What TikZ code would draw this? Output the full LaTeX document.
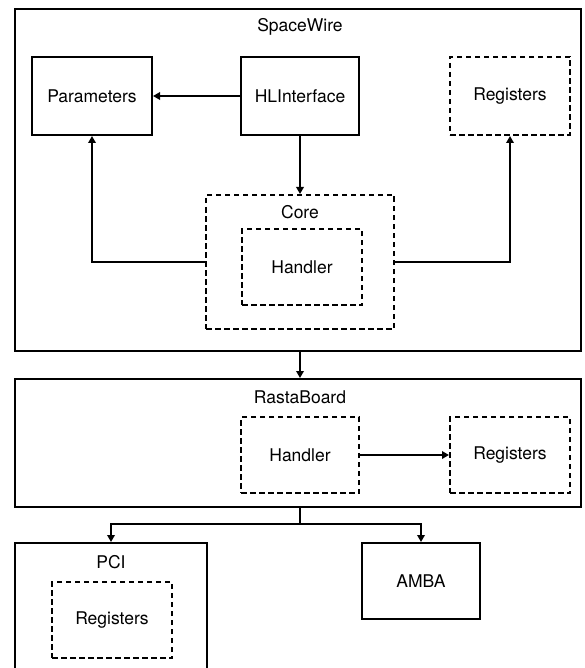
\documentclass[tikz,border=0pt]{standalone}
\usepackage{fontspec}
\setmainfont{TeX Gyre Heros}
\usetikzlibrary{arrows.meta}
\begin{document}
\begin{tikzpicture}[x=1pt,y=-1pt,
  font=\fontsize{17.5pt}{21pt}\selectfont,
  solidbox/.style={draw=black,line width=2pt,inner sep=0pt},
  dashbox/.style={draw=black,line width=2pt,inner sep=0pt,dash pattern=on 5.5pt off 3.5pt},
  conn/.style={draw=black,line width=2pt},
  arr/.style={conn,-{Triangle[length=7pt,width=7.5pt]}},
  lbl/.style={inner sep=0pt}]
\useasboundingbox (0,0) rectangle (584,668);
\clip (0,0) rectangle (584,668);

% SpaceWire container and its parts
\node[solidbox,minimum width=566pt,minimum height=342pt] (sw) at (298,180) {};
\node[lbl] (swlabel) at (300,27) {SpaceWire};
\node[solidbox,minimum width=120pt,minimum height=78pt] (params) at (92,96) {Parameters};
\node[solidbox,minimum width=118pt,minimum height=78pt] (hli) at (300,96) {HLInterface};
\node[dashbox,minimum width=120pt,minimum height=78pt] (swregs) at (510,96) {Registers};
\node[dashbox,minimum width=188pt,minimum height=134pt] (core) at (300,262) {};
\node[lbl] (corelabel) at (300,212) {Core};
\node[dashbox,minimum width=120pt,minimum height=76pt] (swhandler) at (302,267) {Handler};

% RastaBoard container
\node[solidbox,minimum width=566pt,minimum height=128pt] (rasta) at (298,443) {};
\node[lbl] (rastalabel) at (300,397) {RastaBoard};
\node[dashbox,minimum width=118pt,minimum height=76pt] (rbhandler) at (300,455) {Handler};
\node[dashbox,minimum width=120pt,minimum height=76pt] (rbregs) at (510,455) {Registers};

% Buses
\node[solidbox,minimum width=192pt,minimum height=178pt] (pci) at (111,632) {};
\node[lbl] (pcilabel) at (111,562) {PCI};
\node[dashbox,minimum width=120pt,minimum height=76pt] (pciregs) at (112,620) {Registers};
\node[solidbox,minimum width=118pt,minimum height=76pt] (amba) at (421,581) {AMBA};

% Connectors inside SpaceWire
\draw[arr] (hli.west) -- (params.east);
\draw[arr] (hli.south) -- (core.north);
\draw[arr] (core.west) -| (params.south);
\draw[arr] (core.east) -| (swregs.south);

% SpaceWire to RastaBoard
\draw[arr] (hli.south |- sw.south) -- (hli.south |- rasta.north);

% RastaBoard internals
\draw[arr] (rbhandler.east) -- (rbregs.west);

% RastaBoard to the buses
\coordinate (split) at (300,524);
\draw[conn] (split |- rasta.south) -- (split);
\draw[arr] (split) -| (pci.north);
\draw[arr] (split) -| (amba.north);
\end{tikzpicture}
\end{document}
